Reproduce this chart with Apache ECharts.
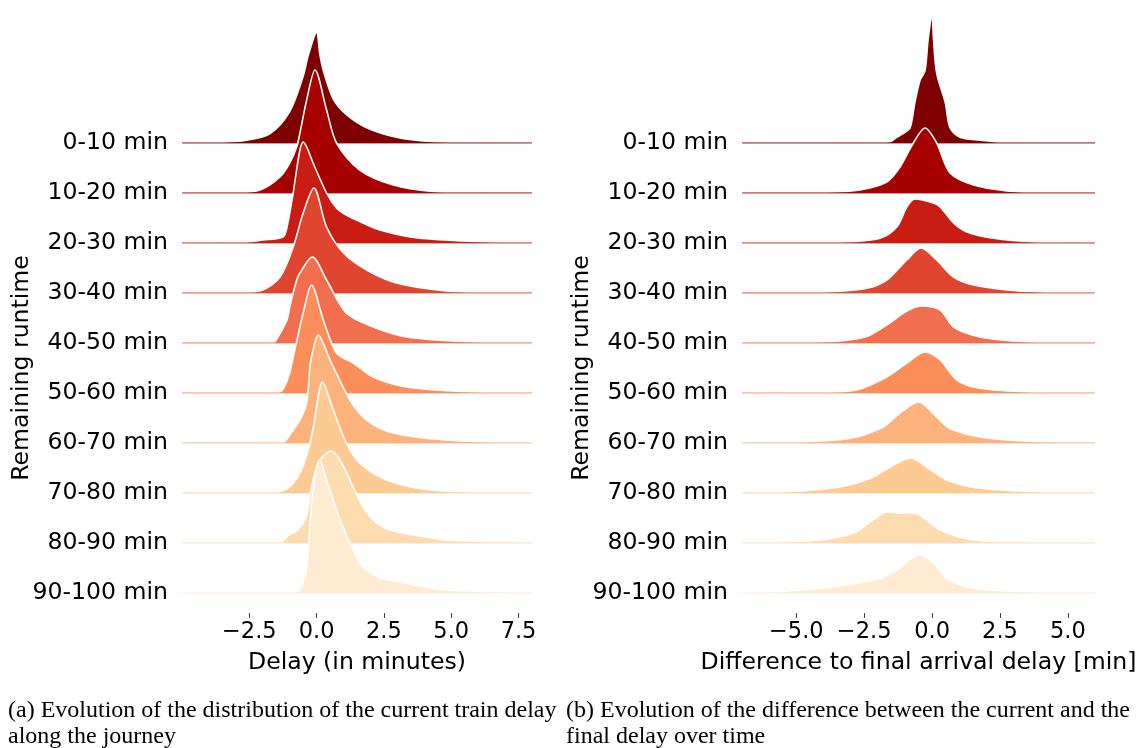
<!DOCTYPE html>
<html>
<head>
<meta charset="utf-8">
<script src="https://cdn.jsdelivr.net/npm/echarts@6/dist/echarts.min.js"></script>
<style>html,body{margin:0;padding:0;background:#fff}#c{width:1147px;height:748px}</style>
</head>
<body>
<div id="c"></div>
<script>
// ---- data ----
const rowLabels = ['0-10 min','10-20 min','20-30 min','30-40 min','40-50 min','50-60 min','60-70 min','70-80 min','80-90 min','90-100 min'];
const delayTicks = [-2.5, 0, 2.5, 5, 7.5];
const diffTicks = [-5, -2.5, 0, 2.5, 5];
const delayRange = [-5, 8];
const diffRange = [-7, 6];
const delayName = 'Delay (in minutes)';
const diffName = 'Difference to final arrival delay [min]';
const yName = 'Remaining runtime';
const captionA = '(a) Evolution of the distribution of the current train delay\nalong the journey';
const captionB = '(b) Evolution of the difference between the current and the\nfinal delay over time';

// density (in row-height units) of current delay, per remaining-runtime bin: [x, density]
const delayDensity = [
  [[-5,0],[-3.85,0.01],[-2.6,0.06],[-1.73,0.2],[-1.0,0.66],[-0.5,1.4],[-0.3,1.86],[0,2.32],[0.12,1.86],[0.25,1.52],[0.62,0.92],[1.1,0.6],[1.86,0.32],[2.97,0.12],[4.2,0.03],[6,0.005],[8,0]],
  [[-5,0],[-3,0.01],[-2.1,0.06],[-1.36,0.32],[-1.0,0.6],[-0.74,0.92],[-0.62,1.2],[-0.37,1.86],[-0.06,2.46],[0.37,1.66],[0.74,1.0],[1.6,0.46],[2.85,0.16],[4.3,0.03],[6,0.005],[8,0]],
  [[-5,0],[-2.8,0.01],[-2.0,0.06],[-1.25,0.12],[-1.1,0.32],[-0.87,1.0],[-0.8,1.26],[-0.62,1.86],[-0.5,2.02],[-0.35,1.9],[-0.13,1.6],[0.37,1.0],[0.74,0.7],[1.1,0.56],[1.73,0.4],[2.35,0.26],[3.6,0.11],[5.45,0.04],[8,0]],
  [[-5,0],[-2.8,0.01],[-2.0,0.06],[-1.36,0.32],[-0.87,0.92],[-0.5,1.6],[-0.1,2.1],[0.37,1.32],[1.0,0.8],[1.86,0.46],[2.97,0.2],[4.8,0.04],[6.5,0.01],[8,0]],
  [[-5,0],[-1.6,0.01],[-1.5,0.06],[-1.1,0.46],[-1.0,0.72],[-0.74,1.26],[-0.62,1.4],[-0.16,1.72],[0.37,1.26],[1.1,0.6],[2.1,0.32],[3.35,0.12],[5.4,0.03],[8,0]],
  [[-5,0],[-1.6,0.005],[-1.43,0.01],[-1.24,0.08],[-1.0,0.4],[-0.87,0.72],[-0.5,1.6],[-0.19,2.16],[0.25,1.46],[0.74,0.8],[1.36,0.6],[2.1,0.32],[3.35,0.12],[5.4,0.03],[8,0]],
  [[-5,0],[-1.4,0.005],[-1.18,0.03],[-0.87,0.26],[-0.62,0.46],[-0.37,0.8],[-0.25,1.52],[-0.19,1.72],[0.06,2.16],[0.5,1.66],[1.24,0.86],[1.86,0.46],[2.85,0.2],[4.8,0.06],[8,0]],
  [[-5,0],[-1.7,0.005],[-1.5,0.01],[-1.0,0.12],[-0.62,0.4],[-0.31,0.86],[-0.12,1.32],[0.22,2.22],[0.62,1.66],[1.1,1.0],[1.6,0.6],[2.6,0.26],[4.2,0.06],[6,0.015],[8,0]],
  [[-5,0],[-1.5,0.005],[-1.36,0.01],[-0.99,0.18],[-0.74,0.24],[-0.43,0.46],[-0.31,0.72],[-0.19,1.12],[0,1.52],[0.12,1.66],[0.52,1.84],[0.87,1.66],[1.36,1.12],[1.73,0.72],[2.23,0.4],[2.72,0.26],[3.6,0.16],[4.8,0.06],[6.7,0.026],[8,0.01]],
  [[-5,0],[-0.8,0.005],[-0.56,0.12],[-0.37,0.52],[-0.25,1.32],[-0.12,2.12],[0.12,2.66],[0.37,2.26],[0.87,1.46],[1.36,0.86],[1.73,0.52],[2.35,0.3],[2.72,0.26],[3.6,0.16],[4.8,0.06],[6.7,0.026],[8,0.01]]
];

// density (in row-height units) of difference to final delay: [x, density]
const diffDensity = [
  [[-7,0],[-2.5,0.005],[-1.55,0.026],[-1.3,0.12],[-1.06,0.2],[-0.81,0.32],[-0.63,0.86],[-0.44,1.32],[-0.26,1.52],[-0.14,2.2],[0,2.66],[0.05,2.2],[0.17,1.46],[0.48,0.86],[0.66,0.32],[1.03,0.12],[1.77,0.06],[2.76,0.006],[6,0]],
  [[-7,0],[-4.5,0.005],[-3.66,0.02],[-2.66,0.06],[-1.67,0.22],[-1.18,0.52],[-0.69,1.0],[-0.26,1.3],[0.17,1.0],[0.66,0.4],[1.53,0.16],[2.76,0.04],[3.9,0.006],[6,0]],
  [[-7,0],[-4,0.01],[-3.0,0.026],[-1.92,0.094],[-1.3,0.32],[-0.93,0.72],[-0.63,0.88],[0.05,0.8],[0.3,0.72],[0.79,0.4],[1.28,0.22],[2.26,0.094],[3.74,0.02],[6,0]],
  [[-7,0],[-4.8,0.01],[-3.65,0.026],[-2.41,0.094],[-1.67,0.26],[-0.93,0.66],[-0.41,0.9],[0.17,0.66],[0.79,0.32],[1.53,0.16],[2.76,0.06],[4,0.02],[6,0]],
  [[-7,0],[-4.6,0.014],[-3.4,0.04],[-2.41,0.13],[-1.67,0.36],[-0.93,0.64],[-0.38,0.74],[0.3,0.66],[0.79,0.32],[1.77,0.12],[3.0,0.04],[4.5,0.006],[6,0]],
  [[-7,0],[-4.0,0.014],[-2.78,0.06],[-1.67,0.32],[-0.93,0.6],[-0.26,0.82],[0.3,0.66],[0.91,0.26],[1.77,0.094],[3.37,0.026],[6,0]],
  [[-7,0],[-4.6,0.026],[-3.0,0.094],[-1.8,0.32],[-1.18,0.6],[-0.5,0.82],[0.17,0.52],[0.66,0.29],[1.77,0.12],[3.37,0.04],[6,0]],
  [[-7,0],[-5.2,0.026],[-3.4,0.12],[-2.29,0.29],[-1.55,0.52],[-0.78,0.7],[-0.2,0.52],[0.54,0.26],[1.77,0.094],[4,0.02],[6,0]],
  [[-7,0.005],[-5.86,0.014],[-4.14,0.06],[-2.9,0.2],[-2.17,0.46],[-1.67,0.62],[-1.18,0.6],[-0.69,0.6],[-0.44,0.56],[0.3,0.26],[1.53,0.06],[3.37,0.02],[6,0]],
  [[-7,0.006],[-5.86,0.026],[-4.38,0.074],[-3.15,0.16],[-1.92,0.29],[-1.3,0.46],[-0.48,0.76],[0.05,0.6],[0.54,0.29],[1.53,0.094],[2.76,0.04],[4.5,0.014],[6,0]]
];

// ---- styles ----
const palette = ['#7f0000','#a70000','#c91d13','#e0462f','#f16e4f','#fc8e5a','#fdb17b','#fdca94','#fddcb0','#feebd2'];
const FONT = 'DejaVu Sans';
const FS = 23.6;
const TFS = 22.5;
const CAP = {fontFamily: 'Liberation Serif', fontSize: 24, fontWeight: 'normal', color: '#000', lineHeight: 26};

// ---- layout ----
const panels = [
  {left: 182, width: 350, range: delayRange, ticks: delayTicks, name: delayName, data: delayDensity},
  {left: 742, width: 353, range: diffRange, ticks: diffTicks, name: diffName, data: diffDensity}
];
const firstBase = 143, rowStep = 50, rowUnits = 3;

const grid = [], xAxis = [], yAxis = [], series = [];
panels.forEach((p, pi) => {
  const gi = grid.length;
  grid.push({left: p.left, width: p.width, top: firstBase, height: rowStep * (rowLabels.length - 1)});
  xAxis.push({
    gridIndex: gi, type: 'value', min: p.range[0], max: p.range[1], offset: 20,
    axisLine: {show: false}, splitLine: {show: false},
    axisTick: {show: true, customValues: p.ticks, length: 5, lineStyle: {color: '#444', width: 1}},
    axisLabel: {customValues: p.ticks, fontFamily: FONT, fontSize: TFS, color: '#000', margin: 8,
      formatter: v => (v < 0 ? '\u2212' : '') + Math.abs(v).toFixed(1)},
    name: p.name, nameLocation: 'middle', nameGap: 38, nameMoveOverlap: false,
    nameTextStyle: {fontFamily: FONT, fontSize: FS, color: '#000'}
  });
  yAxis.push({
    gridIndex: gi, type: 'category', data: rowLabels, inverse: true, boundaryGap: false,
    axisLine: {show: false}, axisTick: {show: false}, splitLine: {show: false},
    axisLabel: {fontFamily: FONT, fontSize: FS, color: '#000', margin: 14},
    name: yName, nameLocation: 'middle', nameGap: 148, nameMoveOverlap: false,
    nameTextStyle: {fontFamily: FONT, fontSize: FS, color: '#000'}
  });
  p.data.forEach((rows, k) => {
    const base = firstBase + rowStep * k;
    const g = grid.length;
    grid.push({left: p.left, width: p.width, top: base - rowStep * rowUnits, height: rowStep * rowUnits});
    xAxis.push({gridIndex: g, type: 'value', min: p.range[0], max: p.range[1], show: false});
    yAxis.push({gridIndex: g, type: 'value', min: 0, max: rowUnits, show: false});
    series.push({
      type: 'line', xAxisIndex: g, yAxisIndex: g, data: rows, z: 3 + k * 2,
      smooth: 0.3, showSymbol: false, silent: true,
      lineStyle: {color: '#fff', width: 1.6},
      areaStyle: {color: palette[k], opacity: 1}
    });
    series.push({
      type: 'line', xAxisIndex: g, yAxisIndex: g, data: [[p.range[0], 0], [p.range[1], 0]], z: 4 + k * 2,
      showSymbol: false, silent: true,
      lineStyle: {color: palette[k], width: 1.5, opacity: 0.7}
    });
  });
});

const option = {
  animation: false,
  backgroundColor: '#fff',
  title: [
    {text: captionA, left: 8, top: 698, padding: 0, textStyle: CAP},
    {text: captionB, left: 566, top: 698, padding: 0, textStyle: CAP}
  ],
  grid, xAxis, yAxis, series
};
const chart = echarts.init(document.getElementById('c'), null, {renderer: 'canvas'});
chart.setOption(option);
</script>
</body>
</html>
